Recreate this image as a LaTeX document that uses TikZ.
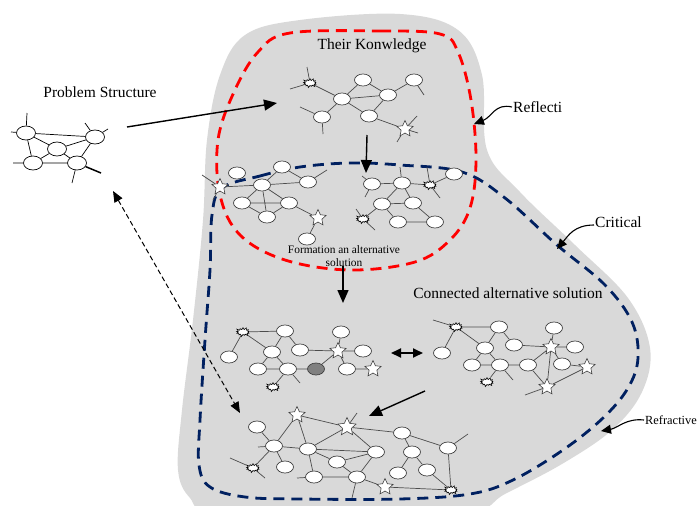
\documentclass[tikz,border=0pt]{standalone}
\usepackage{fontspec}
\setmainfont{Liberation Serif}
\usetikzlibrary{shapes.geometric, shapes.symbols, arrows.meta}
\definecolor{navyline}{RGB}{0,32,96}
\definecolor{blobgray}{RGB}{217,217,217}
\tikzstyle{vtx} = [ellipse, draw=black!75, fill=white, minimum width=17pt, minimum height=12pt, inner sep=0pt, line width=0.7pt]
\tikzstyle{bigvtx} = [vtx, draw=black, minimum width=19pt, minimum height=14pt]
\tikzstyle{spark} = [star, star points=5, star point ratio=2.1, draw=black!75, fill=white, minimum size=17pt, inner sep=0pt, line width=0.6pt]
\tikzstyle{burst} = [starburst, starburst points=13, starburst point height=2.5pt, draw=black, fill=white, minimum width=15pt, minimum height=10pt, inner sep=0pt, line width=0.6pt]
\tikzstyle{link} = [black!70, line width=0.7pt]
\tikzstyle{label} = [font=\fontsize{15.5}{18}\selectfont, inner sep=1pt]
\tikzstyle{smalllabel} = [font=\fontsize{11.4}{12.5}\selectfont, inner sep=0pt, align=center]
\tikzstyle{arrow} = [line width=1.4pt, -{Triangle[length=13pt,width=11pt]}]
\tikzstyle{callarrow} = [line width=1.1pt, -{Triangle[length=10pt,width=9pt]}]
\tikzstyle{reddash} = [red, line width=2.8pt, dash pattern=on 11pt off 7pt]
\tikzstyle{navydash} = [navyline, line width=2.8pt, dash pattern=on 11pt off 7pt]

\begin{document}
\begin{tikzpicture}[x=1pt, y=-1pt]
    \clip (0,0) rectangle (699,506);

    % the grey area and the two dashed loops
    \fill[blobgray] plot[smooth cycle, tension=0.6] coordinates {(245,35) (300,20) (400,14) (458,30) (482,75) (487,150) (520,192) (575,245) (628,298) (650,348) (642,392) (612,430) (562,464) (505,494) (470,512) (350,516) (215,512) (190,498) (178,470) (182,410) (193,320) (203,220) (207,140) (220,75)};
    \draw[reddash] plot[smooth cycle, tension=0.6] coordinates {(290,33) (380,31) (440,34) (458,52) (471,100) (476,160) (470,208) (450,240) (415,262) (350,270) (285,260) (240,235) (220,195) (218,140) (234,92) (258,52)};
    \draw[navydash] plot[smooth cycle, tension=0.6] coordinates {(222,188) (260,176) (300,167) (350,163) (400,165) (462,172) (505,198) (557,245) (605,285) (632,322) (638,358) (628,388) (603,418) (563,450) (513,480) (470,494) (400,499) (300,499) (245,497) (210,487) (199,465) (200,420) (205,340) (210,270) (212,215)};

    % texts
    \node (knowtitle) [label] at (372,46) {Their Konwledge};
    \node (probtitle) [label] at (100,92) {Problem Structure};
    \node (reflecti) [label, anchor=west] at (512,107) {Reflecti};
    \node (critical) [label, anchor=west] at (594,222) {Critical};
    \node (refractive) [label, anchor=west, font=\fontsize{12.4}{15}\selectfont] at (644,420) {Refractive};
    \node (connected) [label] at (508,293) {Connected alternative solution};
    \node (formation) [smalllabel] at (344,256) {Formation an alternative\\solution};

    % problem structure
    \node (p1) [bigvtx] at (26,133) {};
    \node (p2) [bigvtx] at (95,137) {};
    \node (p3) [bigvtx] at (57,149) {};
    \node (p4) [bigvtx] at (33,163) {};
    \node (p5) [bigvtx] at (77,163) {};
    \draw[link, black] (p1) -- (p2) (p1) -- (p4) (p1) -- (p3) (p3) -- (p2) (p3) -- (p4) (p3) -- (p5) (p4) -- (p5) (p5) -- (p2);
    \draw[link, black] (p1) -- ++(1,-20) (p1) -- ++(-15,-1) (p2) -- ++(-10,-14) (p2) -- ++(13,-8) (p4) -- ++(-20,0) (p5) -- ++(-5,20);
    \draw[black, line width=1.5pt] (p5) -- ++(24,10);

    % their knowledge
    \node (k0) [burst] at (310,83) {};
    \node (k1) [vtx] at (342,99) {};
    \node (k2) [vtx] at (363,80) {};
    \node (k3) [vtx] at (388,95) {};
    \node (k4) [vtx] at (414,80) {};
    \node (k5) [vtx] at (322,117) {};
    \node (k6) [vtx] at (369,116) {};
    \node (k7) [spark] at (405,129) {};
    \draw[link] (k0) -- (k1) (k1) -- (k2) (k2) -- (k3) (k1) -- (k3) (k1) -- (k6) (k6) -- (k3) (k3) -- (k4) (k5) -- (k1) (k6) -- (k7);
    \draw[link] (k0) -- ++(-3,-16) (k0) -- ++(-20,6) (k4) -- ++(10,15) (k5) -- ++(-22,-10) (k5) -- ++(1,17) (k7) -- ++(12,-13) (k7) -- ++(13,4) (k7) -- ++(-8,13);

    % formation, left part
    \node (c0) [spark] at (220,187) {};
    \node (c1) [vtx] at (237,173) {};
    \node (c2) [vtx] at (282,167) {};
    \node (c3) [vtx] at (262,185) {};
    \node (c4) [vtx] at (308,182) {};
    \node (c5) [vtx] at (242,203) {};
    \node (c6) [vtx] at (289,203) {};
    \node (c7) [vtx] at (267,217) {};
    \node (c8) [spark] at (318,218) {};
    \node (c9) [vtx] at (307,239) {};
    \draw[link] (c0) -- (c3) (c3) -- (c2) (c2) -- (c4) (c3) -- (c4) (c3) -- (c5) (c3) -- (c6) (c5) -- (c6) (c3) -- (c7) (c5) -- (c7) (c6) -- (c7) (c6) -- (c8) (c8) -- (c9);
    \draw[link] (c4) -- ++(19,-12) (c0) -- ++(-18,-12) (c0) -- ++(-7,13);

    % formation, right part
    \node (d1) [vtx] at (372,184) {};
    \node (d2) [vtx] at (402,183) {};
    \node (d3) [burst] at (430,185) {};
    \node (d4) [vtx] at (454,174) {};
    \node (d5) [vtx] at (382,204) {};
    \node (d6) [vtx] at (413,203) {};
    \node (d7) [burst] at (363,219) {};
    \node (d8) [vtx] at (398,222) {};
    \node (d9) [vtx] at (435,222) {};
    \draw[link] (d1) -- (d2) (d2) -- (d3) (d3) -- (d4) (d2) -- (d5) (d2) -- (d6) (d5) -- (d6) (d5) -- (d8) (d6) -- (d9) (d8) -- (d9) (d5) -- (d7);
    \draw[link] (d1) -- ++(-10,-8) (d1) -- ++(-7,13) (d2) -- ++(-2,-16) (d3) -- ++(-3,-18) (d3) -- ++(10,13) (d7) -- ++(-7,-10) (d7) -- ++(12,11);

    % connected solution, left
    \node (e1) [burst] at (243,332) {};
    \node (e2) [vtx] at (285,331) {};
    \node (e3) [vtx] at (229,357) {};
    \node (e4) [vtx] at (272,352) {};
    \node (e5) [vtx] at (300,350) {};
    \node (e6) [spark] at (338,351) {};
    \node (e7) [vtx] at (341,332) {};
    \node (e8) [vtx] at (363,351) {};
    \node (e9) [vtx] at (258,369) {};
    \node (e10) [vtx] at (288,369) {};
    \node (e11) [vtx, fill=black!50] at (316,369) {};
    \node (e12) [vtx] at (347,369) {};
    \node (e13) [spark] at (373,369) {};
    \node (e14) [burst] at (273,387) {};
    \draw[link] (e1) -- (e2) (e1) -- (e3) (e1) -- (e4) (e2) -- (e4) (e2) -- (e5) (e5) -- (e6) (e6) -- (e7) (e6) -- (e8) (e4) -- (e9) (e4) -- (e10) (e9) -- (e10) (e10) -- (e11) (e11) -- (e6) (e6) -- (e12) (e12) -- (e13) (e14) -- (e10);
    \draw[link] (e10) -- ++(12,14);

    % connected solution, right
    \node (f1) [burst] at (456,327) {};
    \node (f2) [vtx] at (499,327) {};
    \node (f3) [vtx] at (442,353) {};
    \node (f4) [vtx] at (485,348) {};
    \node (f5) [vtx] at (514,345) {};
    \node (f6) [spark] at (551,347) {};
    \node (f7) [vtx] at (554,328) {};
    \node (f8) [vtx] at (575,347) {};
    \node (f9) [vtx] at (472,365) {};
    \node (f10) [vtx] at (500,365) {};
    \node (f11) [vtx] at (528,365) {};
    \node (f12) [vtx] at (562,364) {};
    \node (f13) [spark] at (587,367) {};
    \node (f14) [burst] at (487,382) {};
    \node (f15) [spark] at (547,387) {};
    \draw[link] (f1) -- (f2) (f1) -- (f3) (f1) -- (f4) (f2) -- (f4) (f2) -- (f5) (f5) -- (f6) (f6) -- (f7) (f6) -- (f8) (f4) -- (f9) (f4) -- (f10) (f9) -- (f10) (f10) -- (f11) (f11) -- (f6) (f6) -- (f12) (f12) -- (f13) (f6) -- (f15) (f11) -- (f15) (f15) -- (f13) (f14) -- (f10);
    \draw[link] (f1) -- ++(-23,-7) (f10) -- ++(13,15) (f15) -- ++(-22,8);

    % final solution
    \node (g0) [spark] at (297,415) {};
    \node (g1) [vtx] at (257,427) {};
    \node (g2) [spark, minimum size=19pt] at (347,427) {};
    \node (g3) [vtx] at (402,433) {};
    \node (g4) [vtx] at (274,446) {};
    \node (g5) [vtx] at (308,449) {};
    \node (g6) [vtx] at (376,452) {};
    \node (g7) [vtx] at (412,452) {};
    \node (g8) [vtx] at (448,448) {};
    \node (g9) [vtx] at (337,462) {};
    \node (g10) [vtx] at (285,467) {};
    \node (g11) [burst] at (253,468) {};
    \node (g12) [vtx] at (398,473) {};
    \node (g13) [vtx] at (427,470) {};
    \node (g14) [vtx] at (314,477) {};
    \node (g15) [vtx] at (357,477) {};
    \node (g16) [spark] at (385,487) {};
    \node (g17) [burst] at (451,490) {};
    \draw[link] (g0) -- (g4) (g0) -- (g5) (g0) -- (g2) (g1) -- (g4) (g4) -- (g10) (g4) -- (g5) (g4) -- (g11) (g5) -- (g2) (g2) -- (g3) (g2) -- (g6) (g5) -- (g6) (g5) -- (g9) (g5) -- (g14) (g9) -- (g6) (g9) -- (g15) (g14) -- (g15) (g15) -- (g6) (g15) -- (g16) (g16) -- (g17) (g3) -- (g7) (g3) -- (g8) (g7) -- (g12) (g7) -- (g13) (g13) -- (g17) (g8) -- (g17);
    \draw[link] (g8) -- ++(20,-14) (g2) -- ++(10,-14) (g11) -- ++(-23,-10) (g11) -- ++(12,10) (g14) -- ++(-17,1) (g15) -- ++(-5,21) (g4) -- ++(-16,1);

    % arrows
    \coordinate (probout) at (127,127);
    \coordinate (knowin) at (277,103);
    \coordinate (knowout) at (367,135);
    \coordinate (formin) at (366,173);
    \coordinate (formout) at (343,266);
    \coordinate (connin) at (343,303);
    \coordinate (leftside) at (391,353);
    \coordinate (rightside) at (423,353);
    \coordinate (rightout) at (425,391);
    \coordinate (finalin) at (369,416);
    \coordinate (backtop) at (113,191);
    \coordinate (backbottom) at (240,413);
    \draw[arrow] (probout) -- (knowin);
    \draw[arrow] (knowout) -- (formin);
    \draw[arrow] (formout) -- (connin);
    \draw[line width=1.8pt, {Triangle[length=10pt,width=9pt]}-{Triangle[length=10pt,width=9pt]}] (leftside) -- (rightside);
    \draw[arrow] (rightout) -- (finalin);
    \draw[line width=1pt, dash pattern=on 5pt off 3pt, {Triangle[length=11pt,width=9pt]}-{Triangle[length=11pt,width=9pt]}] (backtop) -- (backbottom);

    % callouts
    \coordinate (reflectip) at (474,124);
    \coordinate (crittip) at (557,249);
    \coordinate (refrtip) at (601,431);
    \draw[callarrow] (reflecti.west) .. controls (495,103) and (492,117) .. (reflectip);
    \draw[callarrow] ([yshift=-3pt]critical.west) .. controls (574,225) and (568,236) .. (crittip);
    \draw[callarrow] (refractive.west) .. controls (626,418) and (618,428) .. (refrtip);
\end{tikzpicture}
\end{document}
